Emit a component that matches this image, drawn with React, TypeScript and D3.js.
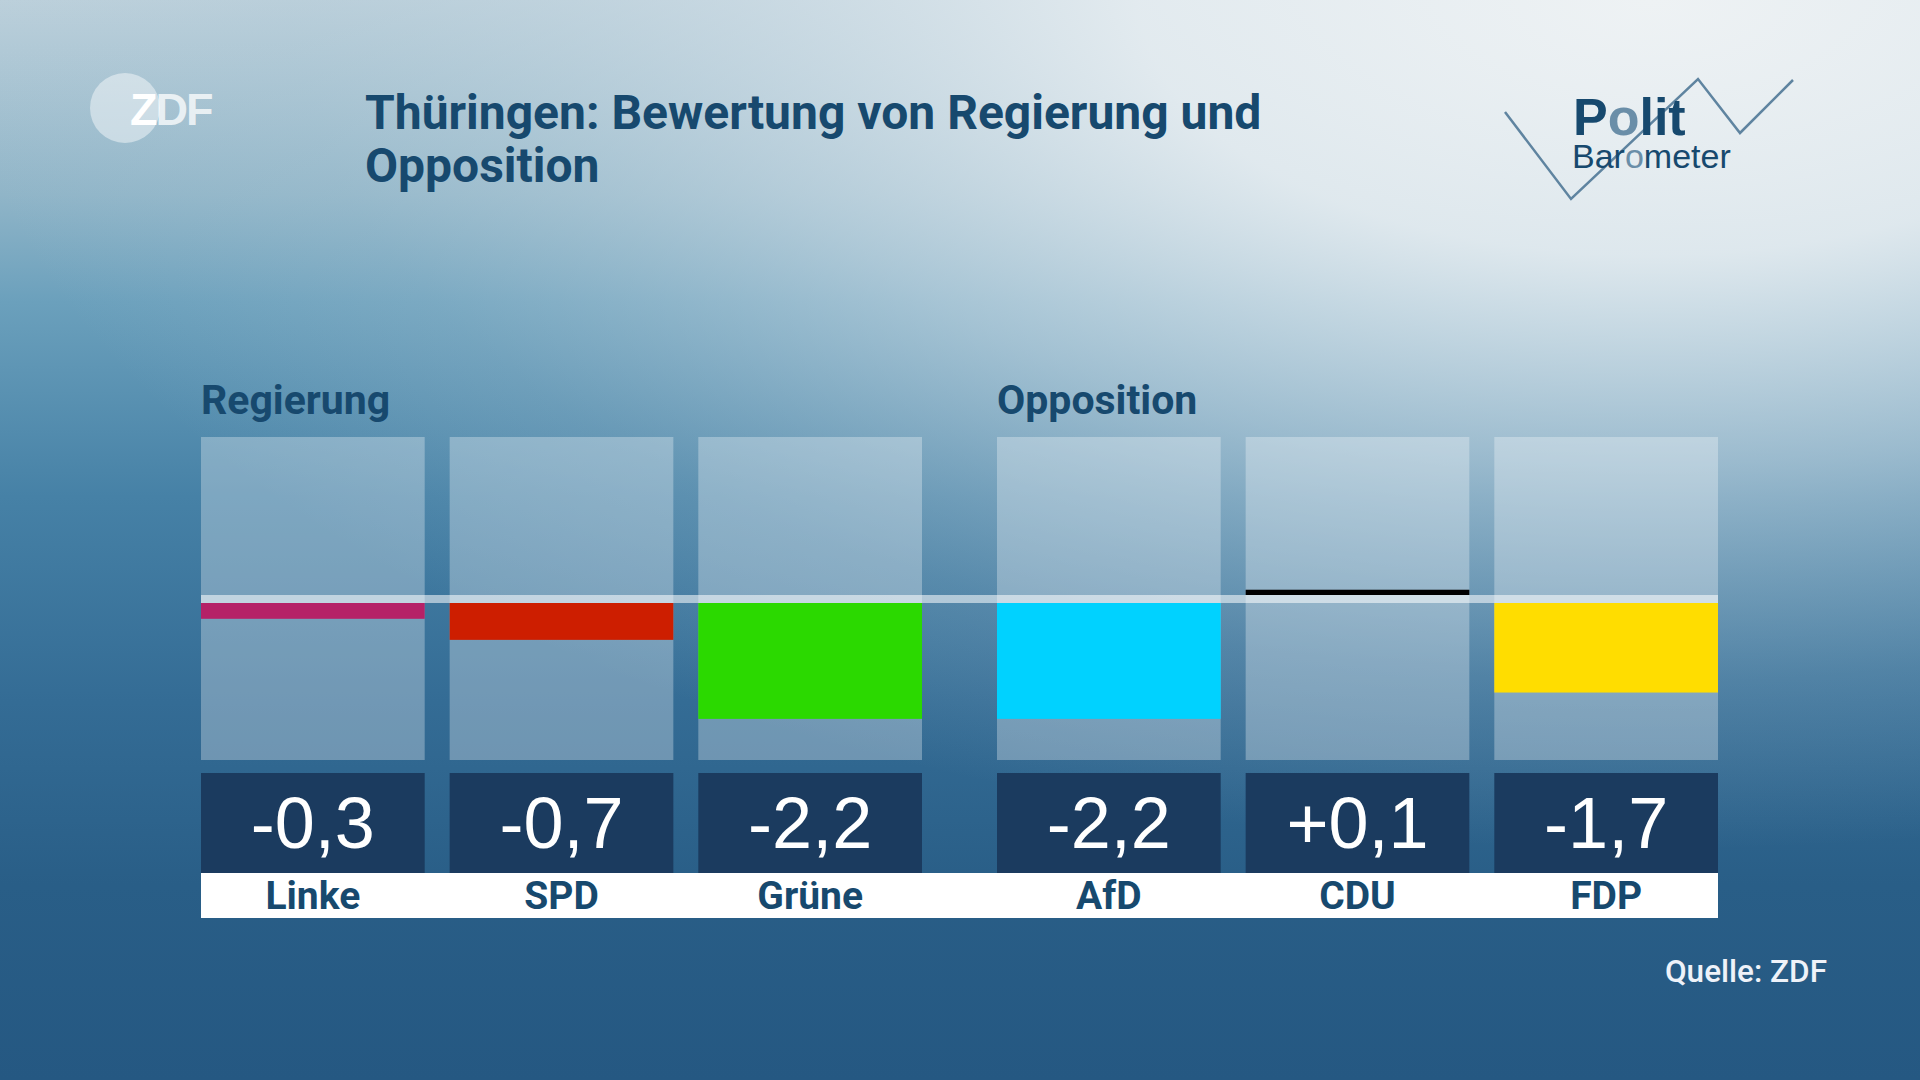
import React from 'react';
import * as d3 from 'd3';

// Politbarometer Thüringen – Bewertung (Ausschnitt ±3)
const regierung = ['Linke', 'SPD', 'Grüne'];
const opposition = ['AfD', 'CDU', 'FDP'];
const values: Record<string, number> = {
  Linke: -0.3,
  SPD: -0.7,
  Grüne: -2.2,
  AfD: -2.2,
  CDU: 0.1,
  FDP: -1.7,
};
const partyColors: Record<string, string> = {
  Linke: '#b52167',
  SPD: '#cd1e00',
  Grüne: '#2bd900',
  AfD: '#00d2ff',
  CDU: '#000000',
  FDP: '#ffdd00',
};
const groupLabels = ['Regierung', 'Opposition'];

const W = 1920;
const H = 1080;
const navy = '#17496e';

const de = d3.formatLocale({
  decimal: ',',
  thousands: '.',
  grouping: [3],
  currency: ['', ' €'],
  minus: '-',
});
const fmt = (v: number) => (v > 0 ? de.format('+.1f')(v) : de.format('.1f')(v));

const App: React.FC = () => {
  const panelTop = 437;
  const zeroTop = 595;
  const zeroH = 8;
  const half = zeroTop - panelTop;
  const panelBottom = zeroTop + zeroH + half - 1;
  const mag = d3.scaleLinear().domain([0, 3]).range([0, half]);

  const groups = [
    { label: groupLabels[0], parties: regierung, x0: 201 },
    { label: groupLabels[1], parties: opposition, x0: 997 },
  ];
  const groupW = 721;
  const bands = groups.map(g =>
    d3.scaleBand<string>().domain(g.parties).range([g.x0, g.x0 + groupW]).paddingInner(25 / 249).paddingOuter(0)
  );
  const left = groups[0].x0;
  const right = groups[1].x0 + groupW;

  const boxTop = 773;
  const boxBottom = 873;
  const stripBottom = 918;

  return (
    <svg
      width={W}
      height={H}
      viewBox={`0 0 ${W} ${H}`}
      style={{ position: 'absolute', left: 0, top: 0, display: 'block' }}
    >
      <defs>
        <linearGradient id="bgV" x1="0" y1="0" x2="0" y2="1">
          <stop offset="0" stopColor="#bcd0db" />
          <stop offset="0.18" stopColor="#90b5c8" />
          <stop offset="0.28" stopColor="#6ba0bc" />
          <stop offset="0.46" stopColor="#4681a6" />
          <stop offset="0.65" stopColor="#346c95" />
          <stop offset="0.82" stopColor="#295e87" />
          <stop offset="1" stopColor="#255882" />
        </linearGradient>
        <radialGradient
          id="glow"
          gradientUnits="userSpaceOnUse"
          cx="0"
          cy="0"
          r="1"
          gradientTransform="translate(1650,0) scale(1700,850)"
        >
          <stop offset="0" stopColor="#eef2f4" stopOpacity="1" />
          <stop offset="0.3" stopColor="#e6edf1" stopOpacity="0.92" />
          <stop offset="0.55" stopColor="#cddce5" stopOpacity="0.6" />
          <stop offset="0.8" stopColor="#b3cbd8" stopOpacity="0.22" />
          <stop offset="1" stopColor="#b3cbd8" stopOpacity="0" />
        </radialGradient>
      </defs>

      <rect width={W} height={H} fill="url(#bgV)" />
      <rect width={W} height={H} fill="url(#glow)" />

      {/* ZDF logo */}
      <g>
        <circle cx={125} cy={108} r={35} fill="#ffffff" fillOpacity={0.45} />
        <text
          x={130}
          y={125}
          fontFamily="'Liberation Sans', Arial, sans-serif"
          fontWeight={700}
          fontSize={45}
          fill="#ffffff"
          fillOpacity={0.75}
          letterSpacing={-2}
        >
          <tspan fillOpacity={1} fill="#ffffff">Z</tspan>DF
        </text>
      </g>

      {/* Title */}
      <text fontFamily="Roboto, sans-serif" fontWeight={700} fontSize={48} fill={navy}>
        <tspan x={365} y={129}>Thüringen: Bewertung von Regierung und</tspan>
        <tspan x={365} y={182}>Opposition</tspan>
      </text>

      {/* Politbarometer logo */}
      <g>
        <polyline
          points="1505,112 1571,199 1698,79 1740,133 1793,80"
          fill="none"
          stroke="#5f84a0"
          strokeWidth={2.5}
        />
        <text x={1573} y={135} fontFamily="'Liberation Sans', Arial, sans-serif" fontWeight={700} fontSize={52} fill={navy}>
          P<tspan fill="#6a8ea8">o</tspan>lit
        </text>
        <text x={1572} y={168} fontFamily="'Liberation Sans', Arial, sans-serif" fontSize={34} fill={navy}>
          Bar<tspan fill="#6a8ea8">o</tspan>meter
        </text>
      </g>

      {/* group labels */}
      {groups.map(g => (
        <text
          key={g.label}
          x={g.x0}
          y={414}
          fontFamily="Roboto, sans-serif"
          fontWeight={700}
          fontSize={41}
          fill={navy}
        >
          {g.label}
        </text>
      ))}

      {/* panels */}
      {groups.map((g, gi) =>
        g.parties.map(p => {
          const x = bands[gi](p)!;
          const bw = bands[gi].bandwidth();
          return (
            <rect key={`panel-${p}`} x={x} y={panelTop} width={bw} height={panelBottom - panelTop} fill="#ffffff" fillOpacity={0.3} />
          );
        })
      )}

      {/* zero line */}
      <rect x={left} y={zeroTop} width={right - left} height={zeroH} fill="#ffffff" fillOpacity={0.55} />

      {/* bars */}
      {groups.map((g, gi) =>
        g.parties.map(p => {
          const x = bands[gi](p)!;
          const bw = bands[gi].bandwidth();
          const v = values[p];
          const h = mag(Math.abs(v));
          const y = v >= 0 ? zeroTop - h : zeroTop + zeroH;
          return <rect key={`bar-${p}`} x={x} y={y} width={bw} height={h} fill={partyColors[p]} />;
        })
      )}

      {/* white label strip */}
      <rect x={left} y={boxBottom} width={right - left} height={stripBottom - boxBottom} fill="#ffffff" />

      {/* value boxes and names */}
      {groups.map((g, gi) =>
        g.parties.map(p => {
          const x = bands[gi](p)!;
          const bw = bands[gi].bandwidth();
          const cx = x + bw / 2;
          return (
            <g key={`val-${p}`}>
              <rect x={x} y={boxTop} width={bw} height={boxBottom - boxTop} fill="#1b3b5f" />
              <text
                x={cx}
                y={848}
                textAnchor="middle"
                fontFamily="'Liberation Sans', Arial, sans-serif"
                fontSize={72}
                fill="#ffffff"
              >
                {fmt(values[p])}
              </text>
              <text
                x={cx}
                y={909}
                textAnchor="middle"
                fontFamily="Roboto, sans-serif"
                fontWeight={700}
                fontSize={39}
                fill={navy}
              >
                {p}
              </text>
            </g>
          );
        })
      )}

      {/* source */}
      <text
        x={1827}
        y={982}
        textAnchor="end"
        fontFamily="Roboto, sans-serif"
        fontWeight={500}
        fontSize={31.5}
        fill="#eef2f9"
      >
        Quelle: ZDF
      </text>
    </svg>
  );
};

export default App;
